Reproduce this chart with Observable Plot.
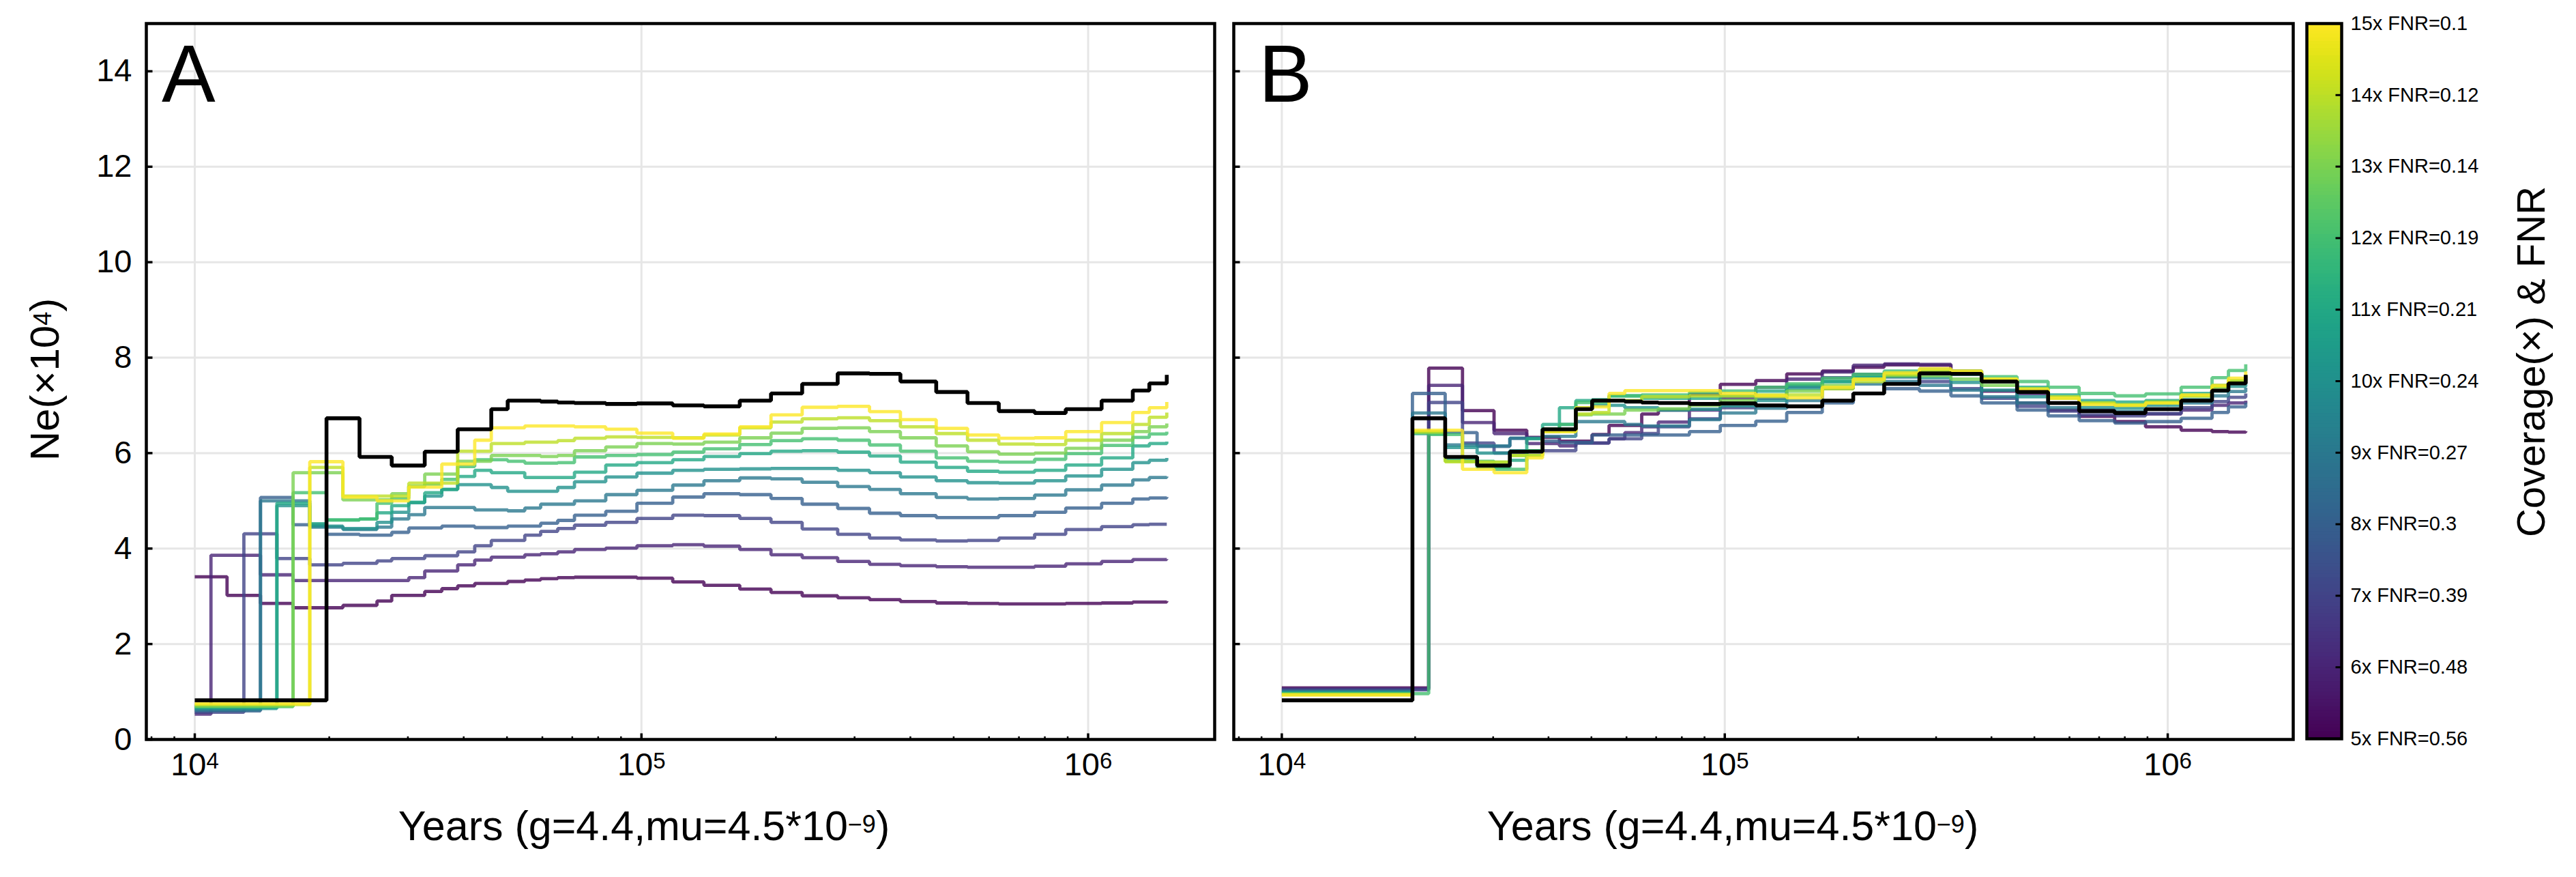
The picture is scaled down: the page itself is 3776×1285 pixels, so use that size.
<!DOCTYPE html>
<html>
<head>
<meta charset="utf-8">
<script src="https://cdn.jsdelivr.net/npm/d3@7"></script>
<script src="https://cdn.jsdelivr.net/npm/@observablehq/plot@0.6"></script>
<style>
  html, body { margin: 0; padding: 0; background: #fff; }
  #figure { position: relative; width: 3776px; height: 1285px; overflow: hidden; background: #fff; }
  #figure > svg { position: absolute; top: 0; }
</style>
</head>
<body>
<div id="figure"></div>
<script>
// step start times (years), shared by every curve
const years = [10000, 10870, 11810, 12880, 14030, 15270, 16600, 18090, 19720, 21460, 23380,
  25580, 27600, 30140, 32720, 35730, 38780, 42340, 46110, 50180, 54800, 59480, 64940,
  70800, 83200, 97700, 117500, 138000, 166000, 195000, 229000, 275000, 324000, 380000,
  457000, 537000, 631000, 759000, 891000, 1072000, 1259000, 1371000, 1500000];

const coverages = [5, 6, 7, 8, 9, 10, 11, 12, 13, 14, 15];
const colorbarLabels = ["5x FNR=0.56", "6x FNR=0.48", "7x FNR=0.39", "8x FNR=0.3", "9x FNR=0.27",
  "10x FNR=0.24", "11x FNR=0.21", "12x FNR=0.19", "13x FNR=0.14", "14x FNR=0.12", "15x FNR=0.1"];

const yTicks = [0, 2, 4, 6, 8, 10, 12, 14];
const majorX = [1e4, 1e5, 1e6];
const minorX = [8000, 9000, 20000, 30000, 40000, 50000, 60000, 70000, 80000, 90000,
  200000, 300000, 400000, 500000, 600000, 700000, 800000, 900000];

// black reference curve (same in both panels)
const truthNe = [0.82, 0.82, 0.82, 0.82, 0.82, 0.82, 0.82, 0.82, 6.73, 6.73, 5.92, 5.92, 5.74, 5.74,
  6.03, 6.03, 6.5, 6.5, 6.92, 7.1, 7.1, 7.08, 7.06,
  7.05, 7.03, 7.04, 7.0, 6.98, 7.1, 7.25, 7.45, 7.67, 7.66, 7.5, 7.28, 7.05, 6.88, 6.84, 6.92, 7.1, 7.31, 7.46, 7.64];

// panel A: Ne (x10^4) per coverage
const A_5x = [3.41, 3.41, 3.02, 3.02, 2.85, 2.85, 2.76, 2.76, 2.76, 2.81, 2.81, 2.90, 3.02, 3.02, 3.1, 3.16, 3.22, 3.27, 3.27, 3.31, 3.34, 3.37, 3.39,
  3.4, 3.4, 3.38, 3.3, 3.23, 3.15, 3.08, 3.01, 2.97, 2.93, 2.89, 2.86, 2.85, 2.84, 2.84, 2.85, 2.86, 2.88, 2.88, 2.9];
const A_6x = [0.53, 3.86, 3.86, 3.86, 3.45, 3.45, 3.33, 3.33, 3.33, 3.33, 3.33, 3.33, 3.33, 3.39, 3.53, 3.53, 3.66, 3.76, 3.82, 3.82, 3.87, 3.89, 3.93,
  3.98, 4.01, 4.06, 4.08, 4.05, 3.98, 3.87, 3.81, 3.73, 3.67, 3.64, 3.62, 3.61, 3.61, 3.63, 3.68, 3.73, 3.77, 3.77, 3.78];
const A_7x = [0.57, 0.57, 0.57, 4.31, 4.31, 3.79, 3.79, 3.66, 3.66, 3.69, 3.69, 3.74, 3.79, 3.79, 3.85, 3.85, 3.93, 4.06, 4.17, 4.17, 4.28, 4.36, 4.42,
  4.49, 4.55, 4.63, 4.7, 4.69, 4.63, 4.55, 4.41, 4.3, 4.22, 4.18, 4.16, 4.17, 4.22, 4.3, 4.4, 4.46, 4.5, 4.51, 4.51];
const A_8x = [0.6, 0.6, 0.6, 0.6, 5.07, 5.07, 4.5, 4.5, 4.30, 4.30, 4.28, 4.28, 4.34, 4.43, 4.43, 4.47, 4.47, 4.44, 4.44, 4.47, 4.47, 4.53, 4.59,
  4.7, 4.78, 4.95, 5.08, 5.15, 5.13, 5.05, 4.93, 4.84, 4.74, 4.69, 4.65, 4.65, 4.69, 4.76, 4.85, 4.95, 5.04, 5.06, 5.08];
const A_9x = [0.62, 0.62, 0.62, 0.62, 5.0, 5.0, 5.0, 4.45, 4.45, 4.40, 4.40, 4.45, 4.62, 4.71, 4.86, 4.86, 4.86, 4.81, 4.81, 4.79, 4.85, 4.93, 4.93,
  5.0, 5.13, 5.22, 5.33, 5.42, 5.48, 5.46, 5.39, 5.3, 5.24, 5.15, 5.07, 5.04, 5.05, 5.12, 5.23, 5.33, 5.44, 5.49, 5.51];
const A_10x = [0.65, 0.65, 0.65, 0.65, 0.65, 4.9, 4.9, 4.47, 4.47, 4.42, 4.42, 4.55, 4.76, 4.96, 5.1, 5.24, 5.34, 5.34, 5.28, 5.2, 5.2, 5.2, 5.28,
  5.4, 5.5, 5.58, 5.64, 5.66, 5.67, 5.68, 5.68, 5.64, 5.59, 5.5, 5.42, 5.38, 5.37, 5.42, 5.52, 5.66, 5.8, 5.85, 5.9];
const A_11x = [0.67, 0.67, 0.67, 0.67, 0.67, 4.95, 4.95, 4.52, 4.6, 4.6, 4.62, 4.75, 4.9, 4.97, 5.17, 5.24, 5.51, 5.64, 5.59, 5.59, 5.49, 5.49, 5.49,
  5.6, 5.75, 5.8, 5.86, 5.93, 5.99, 6.04, 6.05, 6.02, 5.94, 5.81, 5.7, 5.62, 5.6, 5.64, 5.75, 5.9, 6.15, 6.2, 6.24];
const A_12x = [0.69, 0.69, 0.69, 0.69, 0.69, 0.69, 5.17, 5.17, 4.6, 4.6, 4.62, 4.95, 5.05, 5.3, 5.35, 5.45, 5.72, 5.86, 5.86, 5.83, 5.79, 5.79, 5.8,
  5.92, 5.95, 5.97, 6.02, 6.09, 6.18, 6.26, 6.3, 6.27, 6.17, 6.04, 5.9, 5.83, 5.81, 5.87, 5.99, 6.16, 6.33, 6.4, 6.45];
const A_13x = [0.7, 0.7, 0.7, 0.7, 0.7, 0.7, 5.59, 5.59, 5.59, 5.02, 5.02, 5.02, 5.15, 5.3, 5.56, 5.56, 5.83, 5.83, 5.95, 5.95, 5.95, 5.93, 5.95,
  6.05, 6.13, 6.2, 6.19, 6.23, 6.32, 6.42, 6.52, 6.53, 6.45, 6.32, 6.15, 6.03, 5.98, 6.0, 6.1, 6.27, 6.45, 6.55, 6.62];
const A_14x = [0.73, 0.73, 0.73, 0.73, 0.73, 0.73, 0.73, 5.70, 5.70, 5.10, 5.10, 5.10, 5.10, 5.37, 5.37, 5.37, 6.04, 6.04, 6.20, 6.20, 6.23, 6.23, 6.26,
  6.31, 6.34, 6.33, 6.32, 6.38, 6.53, 6.65, 6.72, 6.74, 6.68, 6.55, 6.41, 6.27, 6.19, 6.18, 6.27, 6.41, 6.6, 6.75, 6.85];
const A_15x = [0.75, 0.75, 0.75, 0.75, 0.75, 0.75, 0.75, 5.82, 5.82, 5.08, 5.08, 5.0, 5.0, 5.29, 5.29, 5.77, 5.77, 6.27, 6.53, 6.53, 6.57, 6.57, 6.57,
  6.55, 6.5, 6.42, 6.31, 6.4, 6.55, 6.8, 6.96, 6.98, 6.87, 6.7, 6.52, 6.38, 6.31, 6.32, 6.45, 6.64, 6.85, 6.95, 7.07];

// panel B: Ne (x10^4) per coverage
const B_5x = [1.08, 1.08, 1.08, 1.08, 1.08, 1.08, 1.08, 1.08, 1.08, 7.78, 7.78, 6.89, 6.89, 6.48, 6.48, 6.33, 6.33, 6.25, 6.25, 6.39, 6.58, 6.58, 6.82,
  6.9, 7.23, 7.44, 7.52, 7.66, 7.72, 7.8, 7.85, 7.84, 7.7, 7.3, 7.05, 6.9, 6.77, 6.66, 6.55, 6.48, 6.45, 6.44, 6.46];
const B_6x = [1.06, 1.06, 1.06, 1.06, 1.06, 1.06, 1.06, 1.06, 1.06, 7.42, 7.42, 6.64, 6.64, 6.41, 6.41, 6.2, 6.2, 6.15, 6.21, 6.21, 6.3, 6.43, 6.55,
  6.65, 6.9, 7.15, 7.38, 7.55, 7.7, 7.84, 7.87, 7.86, 7.72, 7.5, 7.25, 7.05, 6.9, 6.82, 6.82, 6.9, 7.0, 7.05, 7.1];
const B_7x = [1.04, 1.04, 1.04, 1.04, 1.04, 1.04, 1.04, 1.04, 1.04, 7.06, 7.06, 6.21, 6.21, 6.0, 6.0, 6.05, 6.05, 6.05, 6.21, 6.21, 6.3, 6.3, 6.41,
  6.55, 6.72, 6.95, 7.15, 7.4, 7.58, 7.65, 7.6, 7.5, 7.35, 7.15, 6.98, 6.88, 6.8, 6.78, 6.83, 6.95, 7.08, 7.17, 7.25];
const B_8x = [1.02, 1.02, 1.02, 1.02, 1.02, 1.02, 1.02, 1.02, 7.25, 7.25, 6.43, 6.43, 6.14, 6.14, 6.31, 6.31, 6.25, 6.22, 6.22, 6.38, 6.38, 6.38, 6.38,
  6.38, 6.45, 6.58, 6.67, 6.85, 7.05, 7.25, 7.35, 7.3, 7.2, 7.05, 6.9, 6.78, 6.68, 6.63, 6.66, 6.73, 6.85, 6.97, 7.06];
const B_9x = [1.0, 1.0, 1.0, 1.0, 1.0, 1.0, 1.0, 1.0, 6.84, 6.84, 6.17, 6.17, 6.15, 6.15, 6.31, 6.31, 6.35, 6.35, 6.66, 6.66, 6.66, 6.6, 6.57,
  6.57, 6.7, 6.84, 6.94, 7.1, 7.35, 7.45, 7.5, 7.42, 7.32, 7.18, 7.05, 6.95, 6.88, 6.87, 6.92, 7.05, 7.2, 7.29, 7.37];
const B_10x = [0.99, 0.99, 0.99, 0.99, 0.99, 0.99, 0.99, 0.99, 6.45, 6.45, 6.12, 6.12, 6.0, 6.0, 6.05, 6.05, 6.45, 6.6, 6.95, 7.0, 7.0, 6.95, 6.95,
  6.9, 6.92, 6.99, 7.1, 7.35, 7.5, 7.58, 7.6, 7.58, 7.48, 7.32, 7.18, 7.05, 6.96, 6.94, 7.0, 7.12, 7.3, 7.4, 7.46];
const B_11x = [0.97, 0.97, 0.97, 0.97, 0.97, 0.97, 0.97, 0.97, 6.41, 6.41, 5.85, 5.85, 5.7, 5.7, 5.85, 6.3, 6.6, 6.95, 7.1, 7.12, 7.2, 7.2, 7.15,
  7.15, 7.15, 7.2, 7.3, 7.42, 7.5, 7.6, 7.68, 7.7, 7.65, 7.52, 7.38, 7.22, 7.1, 7.07, 7.1, 7.25, 7.42, 7.52, 7.6];
const B_12x = [0.96, 0.96, 0.96, 0.96, 0.96, 0.96, 0.96, 0.96, 0.96, 6.39, 6.39, 5.83, 5.83, 5.66, 5.66, 6.05, 6.5, 6.6, 7.06, 7.06, 7.2, 7.2, 7.22,
  7.22, 7.27, 7.3, 7.38, 7.45, 7.57, 7.65, 7.72, 7.75, 7.72, 7.6, 7.5, 7.38, 7.25, 7.2, 7.24, 7.38, 7.58, 7.73, 7.86];
const B_13x = [0.95, 0.95, 0.95, 0.95, 0.95, 0.95, 0.95, 0.95, 6.43, 6.43, 5.83, 5.83, 5.81, 5.81, 5.95, 5.95, 6.5, 6.5, 6.8, 6.82, 6.82, 6.9, 6.9,
  6.93, 7.0, 7.1, 7.18, 7.3, 7.42, 7.55, 7.62, 7.62, 7.55, 7.42, 7.28, 7.15, 7.05, 7.02, 7.08, 7.2, 7.38, 7.48, 7.55];
const B_14x = [0.94, 0.94, 0.94, 0.94, 0.94, 0.94, 0.94, 0.94, 6.45, 6.45, 5.82, 5.82, 5.81, 5.81, 5.95, 5.95, 6.45, 6.45, 6.82, 6.85, 7.1, 7.1, 7.18,
  7.18, 7.2, 7.2, 7.22, 7.22, 7.35, 7.5, 7.65, 7.72, 7.7, 7.55, 7.35, 7.18, 7.05, 7.0, 7.05, 7.2, 7.4, 7.52, 7.62];
const B_15x = [0.93, 0.93, 0.93, 0.93, 0.93, 0.93, 0.93, 0.93, 6.48, 6.48, 6.48, 5.66, 5.66, 5.59, 5.59, 5.9, 6.45, 6.45, 6.95, 6.97, 7.25, 7.31, 7.31,
  7.31, 7.31, 7.25, 7.2, 7.16, 7.38, 7.55, 7.68, 7.77, 7.72, 7.55, 7.33, 7.15, 7.02, 7.0, 7.05, 7.22, 7.42, 7.57, 7.71];

const seriesA = [A_5x, A_6x, A_7x, A_8x, A_9x, A_10x, A_11x, A_12x, A_13x, A_14x, A_15x];
const seriesB = [B_5x, B_6x, B_7x, B_8x, B_9x, B_10x, B_11x, B_12x, B_13x, B_14x, B_15x];

const font = '"Liberation Sans", Arial, Helvetica, sans-serif';
const gridColor = "#e6e6e6";
const xDomain = [7790, 1.92e6];

// small inward tick drawn as a custom dot symbol
const tickMark = (dx, dy) => ({
    draw(context) {
        context.moveTo(0, 0);
        context.lineTo(dx, dy);
    }
});

const drawPanel = (series, {left, width, marginLeft, marginRight, yLabels}) => {
    const rows = [];
    series.forEach((values, i) => {
        values.forEach((ne, j) => rows.push({cov: coverages[i], year: years[j], ne}));
    });
    const truth = years.map((year, j) => ({year, ne: truthNe[j]}));

    const marks = [
        Plot.gridX({ticks: majorX, stroke: gridColor, strokeOpacity: 1, strokeWidth: 3}),
        Plot.gridY({ticks: yTicks.slice(1), stroke: gridColor, strokeOpacity: 1, strokeWidth: 3}),
        Plot.line(rows, {x: "year", y: "ne", z: "cov", stroke: "cov", strokeOpacity: 0.8,
            strokeWidth: 4.8, curve: "step-after", strokeLinejoin: "miter", strokeLinecap: "butt"}),
        Plot.line(truth, {x: "year", y: "ne", stroke: "black", strokeWidth: 5.6,
            curve: "step-after", strokeLinejoin: "miter", strokeLinecap: "butt"}),
        Plot.frame({stroke: "black", strokeWidth: 4.5}),
        Plot.dot(yTicks, {y: (d) => d, frameAnchor: "left", symbol: tickMark(9, 0), r: 1,
            fill: "none", stroke: "black", strokeWidth: 3.5}),
        Plot.dot(majorX, {x: (d) => d, frameAnchor: "bottom", symbol: tickMark(0, -9), r: 1,
            fill: "none", stroke: "black", strokeWidth: 3.5}),
        Plot.dot(minorX, {x: (d) => d, frameAnchor: "bottom", symbol: tickMark(0, -4.5), r: 1,
            fill: "none", stroke: "black", strokeWidth: 2.5}),
        Plot.axisX({ticks: majorX, tickSize: 0, tickPadding: 19, fontSize: 47, label: null,
            tickFormat: (d) => `10^${Math.round(Math.log10(d))}`})
    ];
    if (yLabels) {
        marks.push(Plot.axisY({ticks: yTicks, tickSize: 0, tickPadding: 21, fontSize: 47, label: null}));
    }

    const chart = Plot.plot({
        width,
        height: 1285,
        marginLeft,
        marginRight,
        marginTop: 34,
        marginBottom: 202,
        style: {background: "none", fontFamily: font, color: "black", overflow: "visible"},
        x: {type: "log", domain: xDomain, label: null},
        y: yLabels ? {domain: [0, 15], label: null} : {domain: [0, 15], label: null, axis: null},
        color: {type: "linear", scheme: "viridis", domain: [5, 15]},
        marks
    });

    // turn "10^4" into 10 with a raised exponent
    d3.select(chart).selectAll('[aria-label="x-axis tick label"] text').each(function () {
        const [base, exp] = this.textContent.split("^");
        const t = d3.select(this).text(base);
        t.append("tspan").attr("font-size", "33px").attr("dy", "-10").text(exp);
    });

    chart.style.left = `${left}px`;
    document.getElementById("figure").append(chart);
};

const drawColorbar = () => {
    // colour ramp for the legend bar only
    const ramp = d3.range(5, 15, 0.05);
    const chart = Plot.plot({
        width: 420,
        height: 1285,
        marginLeft: 0,
        marginRight: 369,
        marginTop: 34,
        marginBottom: 203,
        style: {background: "none", fontFamily: font, color: "black", overflow: "visible"},
        x: {domain: [0, 1], axis: null},
        y: {domain: [5, 15], label: null},
        color: {type: "linear", scheme: "viridis", domain: [5, 15]},
        marks: [
            Plot.rect(ramp, {x1: 0, x2: 1, y1: (d) => d, y2: (d) => d + 0.06, fill: (d) => d + 0.025}),
            Plot.frame({stroke: "black", strokeWidth: 4.5}),
            Plot.dot(coverages.slice(1, -1), {y: (d) => d, frameAnchor: "right", symbol: tickMark(-9, 0), r: 1,
                fill: "none", stroke: "black", strokeWidth: 3}),
            Plot.axisY({ticks: coverages, anchor: "right", tickSize: 0, tickPadding: 13, fontSize: 29, label: null,
                tickFormat: (d) => colorbarLabels[coverages.indexOf(d)]})
        ]
    });
    chart.style.left = "3381px";
    document.getElementById("figure").append(chart);
};

const drawTitles = () => {
    const svg = d3.select("#figure").append("svg")
        .attr("width", 3776).attr("height", 1285)
        .style("left", "0px")
        .attr("font-family", font)
        .attr("fill", "black");

    // panel letters
    svg.append("text").attr("x", 237).attr("y", 149).attr("font-size", 118).text("A");
    svg.append("text").attr("x", 1845).attr("y", 149).attr("font-size", 118).text("B");

    const withSup = (sel, before, sup, after, supSize, raise) => {
        sel.append("tspan").text(before);
        sel.append("tspan").attr("font-size", supSize).attr("dy", -raise).text(sup);
        sel.append("tspan").attr("dy", raise).text(after);
    };

    // x axis titles
    [944, 2540].forEach((cx) => {
        const t = svg.append("text").attr("x", cx).attr("y", 1231)
            .attr("text-anchor", "middle").attr("font-size", 61);
        withSup(t, "Years (g=4.4,mu=4.5*10", "\u22129", ")", 36, 11);
    });

    // y axis title
    const yt = svg.append("text").attr("transform", "translate(86,556) rotate(-90)")
        .attr("text-anchor", "middle").attr("font-size", 60);
    withSup(yt, "Ne(\u00d710", "4", ")", 36, 11);

    // colour bar title
    svg.append("text").attr("transform", "translate(3730,530) rotate(-90)")
        .attr("text-anchor", "middle").attr("font-size", 58)
        .text("Coverage(\u00d7) & FNR");
};

const render = () => {
    drawPanel(seriesA, {left: 0, width: 1800, marginLeft: 214, marginRight: 20, yLabels: true});
    drawPanel(seriesB, {left: 1780, width: 1600, marginLeft: 28, marginRight: 19, yLabels: false});
    drawColorbar();
    drawTitles();
};

if (document.readyState === "loading") {
    document.addEventListener("DOMContentLoaded", render);
} else {
    render();
}
</script>
</body>
</html>
